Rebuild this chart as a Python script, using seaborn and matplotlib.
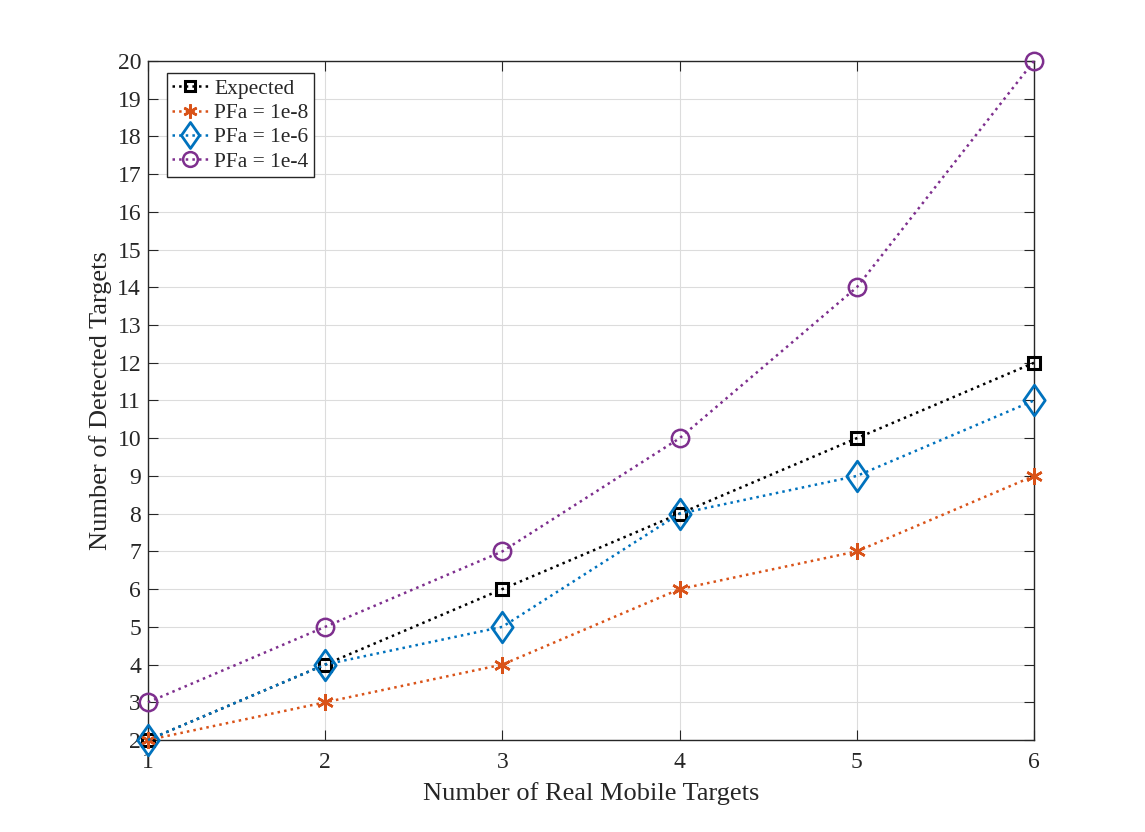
import matplotlib
matplotlib.use("Agg")
import matplotlib.pyplot as plt
from matplotlib.path import Path
import seaborn as sns
import pandas as pd

x_targets = [1, 2, 3, 4, 5, 6]
expected = [2, 4, 6, 8, 10, 12]
pfa_1e8 = [2, 3, 4, 6, 7, 9]
pfa_1e6 = [2, 4, 5, 8, 9, 11]
pfa_1e4 = [3, 5, 7, 10, 14, 20]
series_names = ["Expected", "PFa = 1e-8", "PFa = 1e-6", "PFa = 1e-4"]

sns.set_style("ticks")
plt.rcParams['font.family'] = ['Liberation Serif', 'DejaVu Serif']

fig = plt.figure(figsize=(11.45, 8.32), dpi=100)
ax = fig.add_axes([148/1145, 1-740/832, (1034-148)/1145, (740-61)/832])

diamond = Path([(0, 1), (0.7, 0), (0, -1), (-0.7, 0), (0, 1)],
               [Path.MOVETO, Path.LINETO, Path.LINETO, Path.LINETO, Path.CLOSEPOLY])

styles = [
    dict(color="black", marker="s", markersize=9, mfc="none", mew=2.2),
    dict(color="#D95319", marker=(6, 2, 0), markersize=12, mew=1.8),
    dict(color="#0072BD", marker=diamond, markersize=22, mfc="none", mew=2.0),
    dict(color="#7E2F8E", marker="o", markersize=12.5, mfc="none", mew=1.8),
]
data = [expected, pfa_1e8, pfa_1e6, pfa_1e4]
for name, ys, st in zip(series_names, data, styles):
    df = pd.DataFrame({"x": x_targets, "y": ys})
    sns.lineplot(data=df, x="x", y="y", ax=ax, label=name, linestyle=":",
                 linewidth=1.8, color=st["color"], marker=st["marker"],
                 markersize=st["markersize"], markerfacecolor=st.get("mfc", st["color"]),
                 markeredgecolor=st["color"], markeredgewidth=st["mew"], clip_on=False,
                 zorder=3)

ax.set_xlim(1, 6)
ax.set_ylim(2, 20)
ax.set_xticks(range(1, 7))
ax.set_yticks(range(2, 21))
ax.grid(True, color="#dcdcdc", linewidth=0.8)
ax.set_axisbelow(True)
for s in ax.spines.values():
    s.set_visible(True)
    s.set_color("#262626")
    s.set_linewidth(1.0)
    s.set_zorder(2.5)
ax.tick_params(direction="in", top=True, right=True, length=7, width=0.8,
               labelsize=17, colors="#262626")
ax.tick_params(axis="x", pad=9)
ax.tick_params(axis="y", pad=5)
ax.set_xlabel("Number of Real Mobile Targets", fontsize=19, color="#262626", labelpad=6)
ax.set_ylabel("Number of Detected Targets", fontsize=19, color="#262626", labelpad=4)

leg = ax.legend(loc="upper left", bbox_to_anchor=(0.021, 0.982), fontsize=15.5,
                frameon=True, fancybox=False, edgecolor="#262626", framealpha=1,
                handlelength=1.7, handletextpad=0.25, borderpad=0.25, labelspacing=0.2,
                borderaxespad=0, markerscale=0.85)
leg.get_frame().set_linewidth(1.0)
leg.set_zorder(5)

fig.savefig("out.png", dpi=100)
